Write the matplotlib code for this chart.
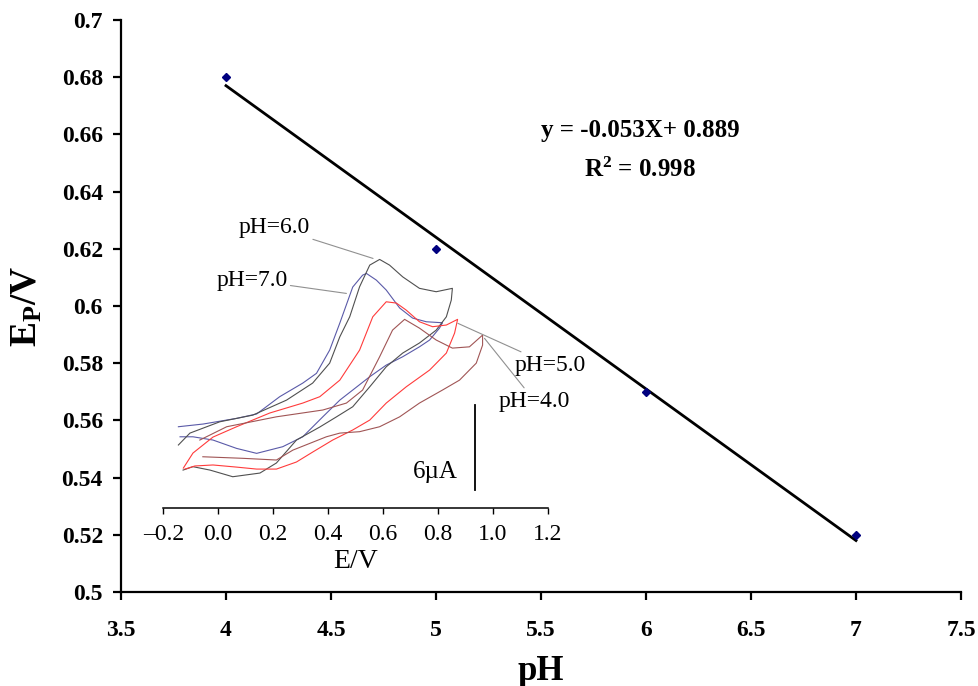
import numpy as np
import matplotlib
matplotlib.use("Agg")
import matplotlib.pyplot as plt

plt.rcParams['font.family'] = ['Liberation Serif', 'DejaVu Serif']
plt.rcParams['mathtext.fontset'] = 'custom'
plt.rcParams['mathtext.rm'] = 'Liberation Serif:bold'
plt.rcParams['mathtext.it'] = 'Liberation Serif:bold'
plt.rcParams['mathtext.bf'] = 'Liberation Serif:bold'

# main plot: peak potential vs pH
ph = [4, 5, 6, 7]
ep = [0.68, 0.62, 0.57, 0.52]
slope, intercept = -0.053, 0.889

# inset: cyclic voltammograms (E in V, I in uA above the inset axis)
e_ph7 = [-0.145, -0.055, 0.067, 0.140, 0.224, 0.308, 0.358, 0.406, 0.443, 0.490, 0.526, 0.540, 0.576, 0.612, 0.661, 0.708, 0.758, 0.817,
         0.806, 0.770, 0.733, 0.672, 0.612, 0.552, 0.490, 0.443, 0.381, 0.308, 0.235, 0.140, 0.067, -0.019, -0.092, -0.139]
i_ph7 = [5.76, 5.95, 6.35, 6.66, 7.88, 8.84, 9.53, 11.17, 13.08, 15.62, 16.46, 16.58, 16.11, 15.41, 14.14, 13.43, 13.17, 13.10,
         12.72, 11.88, 11.40, 10.70, 10.11, 9.29, 8.35, 7.64, 6.46, 5.05, 4.35, 3.88, 4.23, 4.82, 5.05, 5.05]

e_ph6 = [-0.145, -0.103, 0.006, 0.126, 0.249, 0.344, 0.406, 0.443, 0.479, 0.515, 0.552, 0.588, 0.624, 0.672, 0.733, 0.794, 0.853,
         0.849, 0.831, 0.794, 0.733, 0.672, 0.612, 0.552, 0.490, 0.431, 0.370, 0.285, 0.212, 0.152, 0.053, -0.030, -0.092, -0.128]
i_ph6 = [4.47, 5.31, 6.11, 6.58, 7.64, 8.84, 10.25, 12.11, 13.52, 15.64, 17.17, 17.57, 17.17, 16.34, 15.53, 15.29, 15.53,
         14.70, 13.52, 12.58, 11.67, 10.96, 9.99, 8.58, 7.17, 6.46, 5.74, 4.82, 3.20, 2.49, 2.23, 2.70, 2.94, 2.70]

e_ph5 = [-0.127, -0.092, -0.019, 0.067, 0.188, 0.308, 0.370, 0.443, 0.515, 0.563, 0.612, 0.649, 0.685, 0.733, 0.781, 0.831, 0.872,
         0.861, 0.831, 0.770, 0.685, 0.612, 0.552, 0.490, 0.417, 0.344, 0.285, 0.212, 0.140, 0.067, -0.019, -0.085, -0.121]
i_ph5 = [2.84, 3.90, 5.03, 5.76, 6.73, 7.43, 7.88, 9.05, 11.17, 13.52, 14.58, 14.49, 13.99, 13.17, 12.82, 12.94, 13.34,
         12.37, 10.96, 9.76, 8.58, 7.43, 6.23, 5.53, 4.82, 3.97, 3.27, 2.77, 2.77, 2.91, 3.06, 2.99, 2.77]

e_ph4 = [-0.067, 0.031, 0.212, 0.381, 0.467, 0.526, 0.588, 0.635, 0.679, 0.733, 0.794, 0.853, 0.915, 0.963,
         0.963, 0.940, 0.879, 0.817, 0.733, 0.661, 0.588, 0.515, 0.443, 0.394, 0.272, 0.212, 0.090, -0.056]
i_ph4 = [4.82, 5.76, 6.46, 6.94, 7.43, 8.35, 10.70, 12.58, 13.34, 12.72, 11.88, 11.31, 11.40, 12.23,
         11.52, 10.25, 9.05, 8.35, 7.43, 6.46, 5.76, 5.41, 5.31, 5.05, 4.11, 3.41, 3.53, 3.64]

inset_ticks = [-0.2, 0.0, 0.2, 0.4, 0.6, 0.8, 1.0, 1.2]

fig = plt.figure(figsize=(9.79, 6.86), dpi=100)
ax = fig.add_axes([0.1236, 0.137, 0.858, 0.834])

x_fit = np.array([ph[0], ph[-1]])
ax.plot(x_fit, slope * x_fit + intercept, color='black', lw=2.0, zorder=2)
ax.plot(ph, ep, 'D', color='#00007f', ms=4.5, zorder=3)

ax.set_xlim(3.5, 7.5)
ax.set_ylim(0.5, 0.7)
ax.set_xticks(np.arange(3.5, 7.51, 0.5))
ax.set_yticks(np.arange(0.5, 0.701, 0.02))
ax.set_xticklabels(['%g' % v for v in np.arange(3.5, 7.51, 0.5)])
ax.set_yticklabels(['%g' % round(v, 2) for v in np.arange(0.5, 0.701, 0.02)])
for s in ['top', 'right']:
    ax.spines[s].set_visible(False)
for s in ['left', 'bottom']:
    ax.spines[s].set_linewidth(1.6)
ax.tick_params(direction='out', length=6, width=1.6, labelsize=17)
ax.tick_params(axis='y', pad=7)
ax.tick_params(axis='x', pad=14)
for lab in ax.get_xticklabels() + ax.get_yticklabels():
    lab.set_fontweight('bold')

ax.set_xlabel('pH', fontsize=25, fontweight='bold', labelpad=10)
ax.set_ylabel('E$_\\mathrm{P}$/V', fontsize=27, fontweight='bold', labelpad=12)

ax.text(5.971, 0.6612, 'y = -0.053X+ 0.889', fontsize=18, fontweight='bold', ha='center', va='center')
ax.text(5.971, 0.6476, 'R$^2$ = 0.998', fontsize=18, fontweight='bold', ha='center', va='center')

# inset
ins = fig.add_axes([0.1668, 0.259, 0.3926, 0.413])
ins.patch.set_alpha(0)
ins.plot(e_ph7, i_ph7, color='#5a5aa8', lw=0.8)
ins.plot(e_ph6, i_ph6, color='#505050', lw=0.8)
ins.plot(e_ph5, i_ph5, color='#ff3b3b', lw=0.8)
ins.plot(e_ph4, i_ph4, color='#a05555', lw=0.8)
ins.set_xlim(-0.2, 1.2)
ins.set_ylim(0, 20)
ins.set_xticks(inset_ticks)
ins.set_xticklabels(['%.1f' % v if v >= 0 else '\u2013%.1f' % -v for v in inset_ticks])
for s in ['top', 'right', 'left']:
    ins.spines[s].set_visible(False)
ins.spines['bottom'].set_linewidth(1.1)
ins.set_yticks([])
ins.tick_params(axis='x', direction='out', length=4, width=1.0, labelsize=17, pad=7)
ins.set_xlabel('E/V', fontsize=20, labelpad=3)

lead = dict(arrowstyle='-', color='#909090', lw=0.8, shrinkA=0, shrinkB=0)
ins.annotate('pH=6.0', xy=(0.564, 17.64), xytext=(0.205, 19.85), fontsize=17, ha='center', va='center',
             arrowprops=lead, annotation_clip=False)
ins.annotate('pH=7.0', xy=(0.467, 15.17), xytext=(0.123, 16.11), fontsize=17, ha='center', va='center',
             arrowprops=lead, annotation_clip=False)
ins.annotate('pH=5.0', xy=(0.873, 13.06), xytext=(1.210, 10.11), fontsize=17, ha='center', va='center',
             arrowprops=lead, annotation_clip=False)
ins.annotate('pH=4.0', xy=(0.970, 12.0), xytext=(1.153, 7.57), fontsize=17, ha='center', va='center',
             arrowprops=lead, annotation_clip=False)

# 6 uA scale bar
ins.plot([0.937, 0.937], [1.27, 7.27], color='black', lw=1.3)
ins.text(0.872, 2.58, '6\u00b5A', fontsize=18, ha='right', va='center')

fig.savefig('out.png', dpi=100)
